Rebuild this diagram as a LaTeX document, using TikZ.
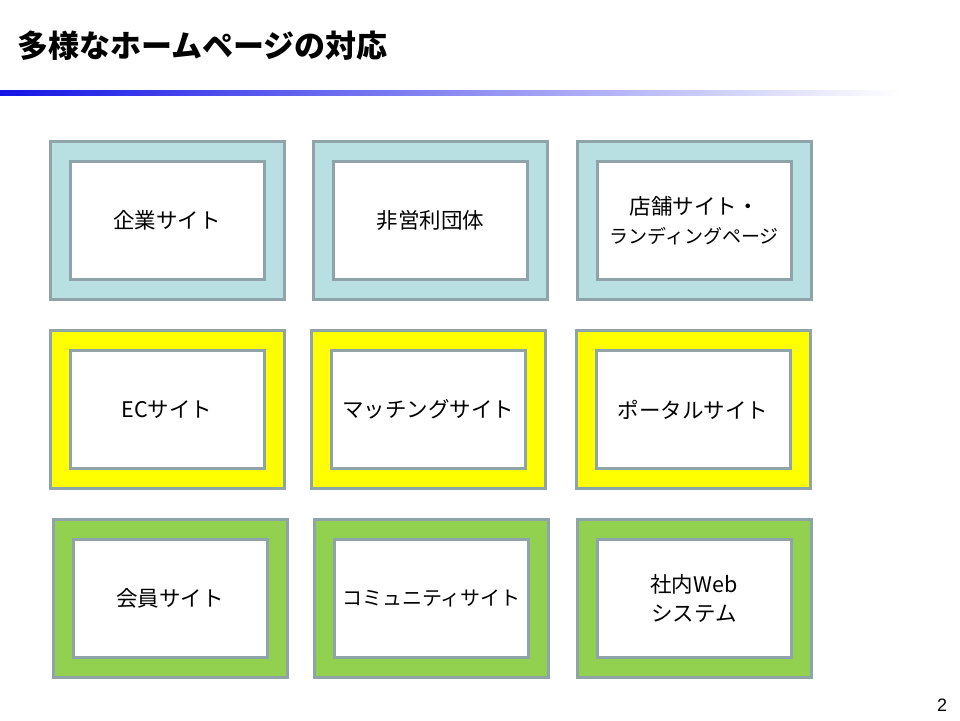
\documentclass[tikz,border=0pt]{standalone}
\usepackage{fontspec}
\setmainfont{Noto Sans CJK JP}
\newfontfamily\jpfont{Noto Sans CJK JP}
\newfontfamily\arialfont{Liberation Sans}
\definecolor{edgegray}{RGB}{142,164,168}
\definecolor{paleblue}{RGB}{184,223,226}
\definecolor{brightyellow}{RGB}{255,255,0}
\definecolor{leafgreen}{RGB}{146,208,80}
\definecolor{barblue}{RGB}{20,20,230}
\tikzset{
  outerbox/.style={draw=edgegray, line width=3pt, minimum width=234pt, minimum height=158pt, inner sep=0pt},
  innerbox/.style={draw=edgegray, line width=3pt, fill=white, minimum width=194pt, minimum height=118pt, inner sep=0pt,
    align=center, font=\jpfont\fontsize{21.5pt}{29pt}\selectfont},
}
\begin{document}
\begin{tikzpicture}[x=1pt,y=-1pt]
\useasboundingbox (0,0) rectangle (960,720);
\fill[white] (0,0) rectangle (960,720);
% title
\node[anchor=west, inner sep=0pt, font=\jpfont\bfseries\fontsize{31pt}{34pt}\selectfont] (title) at (17,46) {多様なホームページの対応};
% gradient bar
\shade[left color=barblue, right color=white] (0,90) rectangle (900,95);
% row 1
\node[outerbox, fill=paleblue] (o11) at (167,220.5) {};
\node[innerbox] (i11) at (o11) {企業サイト};
\node[outerbox, fill=paleblue] (o12) at (430.5,220.5) {};
\node[innerbox] (i12) at (o12) {非営利団体};
\node[outerbox, fill=paleblue] (o13) at (694,220.5) {};
\node[innerbox] (i13) at (o13) {店舗サイト・\\{\fontsize{19pt}{28pt}\selectfont ランディングページ}};
% row 2
\node[outerbox, fill=brightyellow] (o21) at (167,409.5) {};
\node[innerbox] (i21) at (o21) {ECサイト};
\node[outerbox, fill=brightyellow] (o22) at (428,409.5) {};
\node[innerbox] (i22) at (o22) {マッチングサイト};
\node[outerbox, fill=brightyellow] (o23) at (693,409.5) {};
\node[innerbox] (i23) at (o23) {ポータルサイト};
% row 3
\node[outerbox, fill=leafgreen] (o31) at (170,598.5) {};
\node[innerbox] (i31) at (o31) {会員サイト};
\node[outerbox, fill=leafgreen] (o32) at (431.5,598.5) {};
\node[innerbox] (i32) at (o32) {{\fontsize{20pt}{29pt}\selectfont コミュニティサイト}};
\node[outerbox, fill=leafgreen] (o33) at (694,598.5) {};
\node[innerbox] (i33) at (o33) {社内Web\\システム};
% page number
\node[inner sep=0pt, font=\arialfont\fontsize{18pt}{20pt}\selectfont] (pnum) at (942,705) {2};
\end{tikzpicture}
\end{document}
